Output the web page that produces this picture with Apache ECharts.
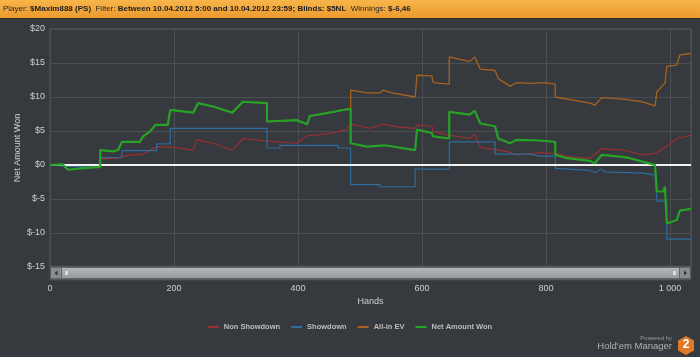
<!DOCTYPE html>
<html><head><meta charset="utf-8">
<script src="https://cdn.jsdelivr.net/npm/echarts@6/dist/echarts.min.js"></script>
<style>html,body{margin:0;padding:0;background:#36393d;}#c{width:700px;height:357px;}</style>
</head><body><div id="c"></div>
<script>
const seriesNames = ['Non Showdown', 'Showdown', 'All-in EV', 'Net Amount Won'];
const yTicks = [-15, -10, -5, 0, 5, 10, 15, 20];
const xTicks = [0, 200, 400, 600, 800, 1000];
const totalHands = 1034;

const nonShowdown = [[0,0],[20,0.1],[29,0],[81,0],[81,0.9],[110,1.0],[129,1.5],[150,1.6],[172,2.7],[200,2.6],[231,2.2],[237,3.7],[263,3.2],[294,2.2],[311,3.9],[350,3.5],[398,3.2],[415,4.3],[450,4.6],[479,5.2],[485,6.0],[516,5.4],[537,6.0],[560,5.6],[589,5.4],[592,5.9],[616,5.7],[618,4.9],[644,4.4],[677,3.9],[685,4.5],[694,2.6],[737,2.0],[753,1.5],[790,1.8],[815,1.7],[839,1.2],[871,1.0],[890,2.4],[924,2.2],[956,1.5],[976,1.7],[995,2.7],[1011,3.9],[1034,4.4]];
const showdown = [[0,0],[29,-0.2],[77,-0.3],[81,-0.3],[81,1.1],[116,1.1],[116,2.1],[172,2.1],[172,3.1],[194,3.1],[194,5.4],[350,5.4],[350,2.5],[371,2.5],[371,2.9],[465,2.9],[465,2.5],[485,2.5],[485,-2.9],[532,-2.9],[532,-3.2],[589,-3.2],[589,-0.6],[644,-0.6],[644,3.4],[718,3.4],[718,1.6],[774,1.6],[790,1.3],[815,1.3],[815,-0.5],[871,-0.8],[879,-1.1],[890,-0.6],[895,-1.0],[956,-1.2],[976,-1.5],[979,-1.5],[979,-5.3],[995,-5.3],[995,-10.9],[1034,-10.9]];
const allInEV = [[0,0],[20,0.1],[29,-0.7],[50,-0.5],[77,-0.3],[81,-0.3],[81,2.2],[102,2.0],[110,2.2],[116,3.4],[145,3.4],[150,4.2],[161,4.9],[170,5.9],[190,5.9],[194,8.1],[231,7.7],[239,9.1],[263,8.6],[294,7.7],[311,9.3],[350,9.1],[350,6.4],[398,6.6],[415,6.0],[419,7.2],[444,7.6],[479,8.2],[485,8.2],[485,11.0],[511,10.6],[532,10.6],[537,11.0],[552,10.6],[589,10.0],[592,13.2],[616,13.1],[618,12.1],[644,11.9],[644,15.9],[677,15.2],[685,15.9],[694,14.1],[718,13.9],[723,12.7],[742,11.6],[753,12.1],[774,12.0],[798,12.1],[815,11.9],[815,10.0],[871,9.1],[879,8.8],[890,9.9],[924,9.7],[956,9.3],[976,8.7],[979,10.8],[992,12.0],[995,14.5],[1011,14.7],[1016,16.2],[1034,16.4]];
const netWon = [[0,0],[20,0.1],[29,-0.7],[50,-0.5],[77,-0.3],[81,-0.3],[81,2.2],[102,2.0],[110,2.2],[116,3.4],[145,3.4],[150,4.2],[161,4.9],[170,5.9],[190,5.9],[194,8.1],[231,7.7],[239,9.1],[263,8.6],[294,7.7],[311,9.3],[350,9.1],[350,6.4],[398,6.6],[415,6.0],[419,7.2],[444,7.6],[479,8.2],[485,8.2],[485,3.2],[511,2.7],[540,2.9],[589,2.2],[592,5.2],[616,4.7],[618,4.2],[644,3.9],[644,7.8],[677,7.4],[685,8.0],[694,6.1],[718,5.7],[723,3.9],[742,3.2],[753,3.7],[790,3.6],[815,3.4],[815,1.5],[834,1.0],[871,0.6],[879,0.25],[890,1.5],[924,1.2],[935,1.0],[956,0.5],[976,0],[979,-3.9],[989,-3.9],[992,-3.2],[995,-8.6],[1011,-8.1],[1016,-6.7],[1034,-6.46]];

const colors = ['#9a3032', '#2e6d9c', '#a8621f', '#25a325'];
const widths = [1.2, 1.2, 1.3, 2.2];
const datas = [nonShowdown, showdown, allInEV, netWon];

const chart = echarts.init(document.getElementById('c'), null, {renderer: 'canvas'});
const FONT = 'Liberation Sans';
const series = seriesNames.map((n, i) => ({
  name: n, type: 'line', data: datas[i], showSymbol: false, symbol: 'none',
  lineStyle: {color: colors[i], width: widths[i]}, itemStyle: {color: colors[i]},
  z: 2 + i
}));
series[0].markLine = {
  silent: true, symbol: 'none', label: {show: false},
  lineStyle: {color: '#f2f2f2', width: 2, type: 'solid'},
  data: [{yAxis: 0}]
};

chart.setOption({
  backgroundColor: '#36393d',
  animation: false,
  grid: {left: 50, right: 9, top: 29, bottom: 90, show: true, borderColor: '#55585c', borderWidth: 1,
         containLabel: false, outerBoundsMode: 'none'},
  xAxis: {
    type: 'value', min: xTicks[0], max: totalHands, interval: 200,
    name: 'Hands', nameLocation: 'middle', nameGap: 30, nameMoveOverlap: false,
    nameTextStyle: {color: '#d0d0d0', fontSize: 9, fontFamily: FONT},
    axisLine: {show: false}, axisTick: {show: false},
    axisLabel: {color: '#cfcfcf', fontSize: 9, fontFamily: FONT, margin: 17, showMaxLabel: false,
      formatter: v => xTicks.includes(v) ? String(v).replace(/\B(?=(\d{3})+(?!\d))/g, ' ') : ''},
    splitLine: {show: true, lineStyle: {color: '#4b4e52', width: 1}}
  },
  yAxis: {
    type: 'value', min: yTicks[0], max: yTicks[yTicks.length - 1], interval: 5,
    name: 'Net Amount Won', nameLocation: 'middle', nameGap: 28, nameRotate: 90, nameMoveOverlap: false,
    nameTextStyle: {color: '#d0d0d0', fontSize: 9, fontFamily: FONT},
    axisLine: {show: false}, axisTick: {show: false},
    axisLabel: {color: '#cfcfcf', fontSize: 9, fontFamily: FONT, margin: 5, formatter: v => '$' + v},
    splitLine: {show: true, lineStyle: {color: '#4b4e52', width: 1}}
  },
  legend: {
    data: seriesNames, top: 318, left: 'center', itemWidth: 11, itemHeight: 2, itemGap: 11, icon: 'rect',
    textStyle: {color: '#bdbdbd', fontSize: 7.5, fontFamily: FONT, fontWeight: 'bold'}
  },
  series: series,
  graphic: [
    {type: 'rect', shape: {x: 0, y: 0, width: 700, height: 18}, z: 100,
     style: {fill: new echarts.graphic.LinearGradient(0, 0, 0, 1, [{offset: 0, color: '#f8b54a'}, {offset: 1, color: '#eb9a2e'}])}},
    {type: 'rect', shape: {x: 0, y: 18, width: 700, height: 1}, z: 100, style: {fill: '#2a2c2f'}},
    {type: 'text', x: 3, y: 5, z: 101, style: {
      text: '{n|Player: }{b|$Maxim888 (PS)}{n|  Filter: }{b|Between 10.04.2012 5:00 and 10.04.2012 23:59; Blinds: $5NL}{n|  Winnings: }{b|$-6,46}',
      rich: {
        n: {fill: '#2b2b2b', fontSize: 8, fontFamily: 'Liberation Sans'},
        b: {fill: '#1e1e1e', fontSize: 8, fontFamily: 'Liberation Sans', fontWeight: 'bold'}
      }}},
    // scrollbar
    {type: 'rect', shape: {x: 50, y: 266, width: 641, height: 14}, z: 50, style: {fill: '#606367', stroke: '#4a4d51', lineWidth: 1}},
    {type: 'rect', shape: {x: 62, y: 268, width: 617, height: 10}, z: 51,
     style: {fill: new echarts.graphic.LinearGradient(0, 0, 0, 1, [{offset: 0, color: '#b4b7ba'}, {offset: 1, color: '#989b9e'}])}},
    {type: 'rect', shape: {x: 51, y: 268, width: 10, height: 10}, z: 51, style: {fill: '#8a8d90'}},
    {type: 'rect', shape: {x: 680, y: 268, width: 10, height: 10}, z: 51, style: {fill: '#8a8d90'}},
    {type: 'polygon', shape: {points: [[57.5, 270.5], [57.5, 275.5], [54.5, 273]]}, z: 52, style: {fill: '#333'}},
    {type: 'polygon', shape: {points: [[684, 270.5], [684, 275.5], [687, 273]]}, z: 52, style: {fill: '#333'}},
    {type: 'rect', shape: {x: 65, y: 271, width: 3, height: 4}, z: 52, style: {fill: '#d8dadc'}},
    {type: 'rect', shape: {x: 673, y: 271, width: 3, height: 4}, z: 52, style: {fill: '#d8dadc'}},
    // powered by
    {type: 'text', x: 672, y: 335, z: 60, style: {text: 'Powered by', fill: '#9a9a9a', fontSize: 6, fontFamily: FONT, align: 'right'}},
    {type: 'text', x: 672, y: 341, z: 60, style: {text: "Hold'em Manager", fill: '#b0b0b0', fontSize: 9.5, fontFamily: FONT, align: 'right'}},
    {type: 'polygon', shape: {points: [[686, 336], [694, 340.5], [694, 350.5], [686, 355], [678, 350.5], [678, 340.5]]}, z: 60, style: {fill: '#e0782a'}},
    {type: 'text', x: 686, y: 339, z: 61, style: {text: '2', fill: '#ffffff', fontSize: 12, fontWeight: 'bold', fontFamily: FONT, align: 'center'}}
  ]
});
</script></body></html>
